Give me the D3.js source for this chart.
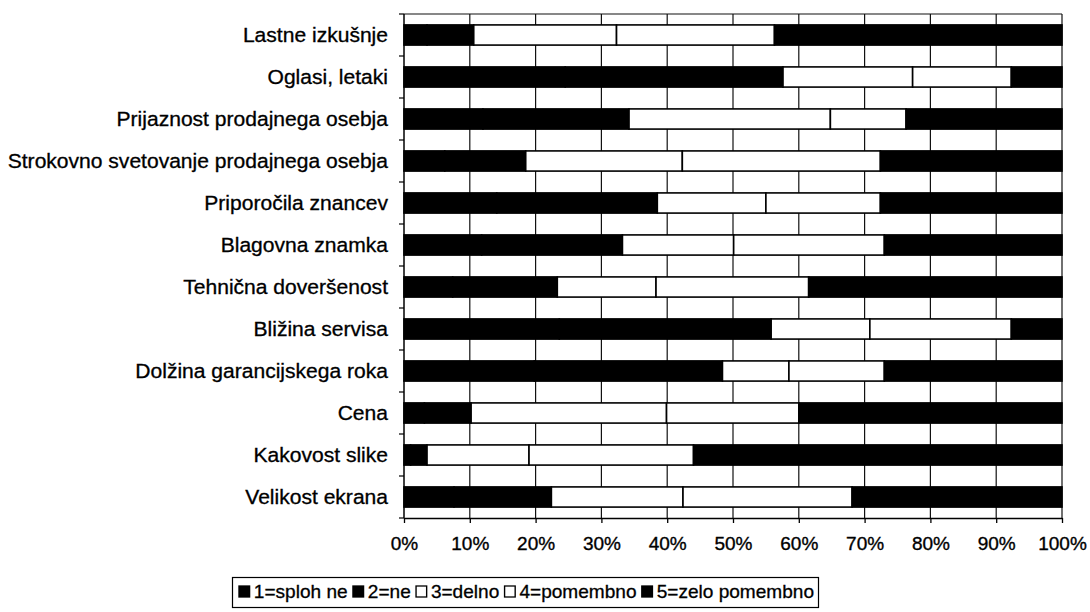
<!DOCTYPE html>
<html>
<head>
<meta charset="utf-8">
<script src="https://cdn.jsdelivr.net/npm/d3@7"></script>
<style>
  html, body { margin: 0; padding: 0; background: #fff; }
  svg { display: block; }
  text { font-family: "Liberation Sans", Arial, sans-serif; fill: #000; }
</style>
</head>
<body>
<svg id="chart" width="1090" height="612"></svg>
<script>
// Factors listed top to bottom
const categories = [
  "Lastne izkušnje",
  "Oglasi, letaki",
  "Prijaznost prodajnega osebja",
  "Strokovno svetovanje prodajnega osebja",
  "Priporočila znancev",
  "Blagovna znamka",
  "Tehnična doveršenost",
  "Bližina servisa",
  "Dolžina garancijskega roka",
  "Cena",
  "Kakovost slike",
  "Velikost ekrana"
];

// Share of answers per rating (percent), same order as categories
const splohNe   = [3.5, 24.5, 12.0, 6.2, 14.1, 11.8, 7.4, 23.6, 19.8, 3.1, 1.0, 7.6];
const ne        = [7.1, 33.1, 22.2, 12.3, 24.4, 21.4, 15.9, 32.2, 28.6, 7.1, 2.5, 14.8];
const delno     = [21.7, 19.7, 30.6, 23.8, 16.5, 16.9, 15.0, 15.0, 10.1, 29.7, 15.5, 20.0];
const pomembno  = [24.0, 15.0, 11.5, 30.1, 17.4, 22.9, 23.2, 21.5, 14.5, 20.1, 25.0, 25.7];
const zeloPom   = [43.7, 7.7, 23.7, 27.6, 27.6, 27.0, 38.5, 7.7, 27.0, 40.0, 56.0, 31.9];

const seriesNames = ["1=sploh ne", "2=ne", "3=delno", "4=pomembno", "5=zelo pomembno"];
const seriesFill  = ["#000", "#000", "#fff", "#fff", "#000"];

const tickValues = [0, 0.1, 0.2, 0.3, 0.4, 0.5, 0.6, 0.7, 0.8, 0.9, 1.0];

const rows = categories.map((c, i) => ({
  cat: c,
  "1=sploh ne": splohNe[i],
  "2=ne": ne[i],
  "3=delno": delno[i],
  "4=pomembno": pomembno[i],
  "5=zelo pomembno": zeloPom[i]
}));

const stacked = d3.stack()
  .keys(seriesNames)
  .offset(d3.stackOffsetExpand)(rows);

const svg = d3.select("#chart");
const plot = { left: 404, right: 1062, top: 14, bottom: 518 };

const x = d3.scaleLinear().domain([0, 1]).range([plot.left, plot.right]);
const y = d3.scaleBand().domain(categories).range([plot.top, plot.bottom]).paddingInner(0.52).paddingOuter(0.26);

// Vertical gridlines
svg.append("g")
  .selectAll("line")
  .data(tickValues.slice(1))
  .join("line")
  .attr("x1", d => x(d)).attr("x2", d => x(d))
  .attr("y1", plot.top).attr("y2", plot.bottom)
  .attr("stroke", "#111").attr("stroke-width", 1.2);

// Plot frame top edge
svg.append("line")
  .attr("x1", plot.left).attr("x2", plot.right)
  .attr("y1", plot.top).attr("y2", plot.top)
  .attr("stroke", "#111").attr("stroke-width", 1.2);

// Bars
svg.append("g")
  .selectAll("g")
  .data(stacked)
  .join("g")
  .attr("fill", (d, i) => seriesFill[i])
  .selectAll("rect")
  .data(d => d)
  .join("rect")
  .attr("x", d => x(d[0]))
  .attr("y", d => y(d.data.cat))
  .attr("width", d => x(d[1]) - x(d[0]))
  .attr("height", y.bandwidth())
  .attr("stroke", "#000")
  .attr("stroke-width", 1.6);

// X axis
const xAxis = svg.append("g")
  .attr("transform", `translate(0,${plot.bottom})`)
  .call(d3.axisBottom(x).tickValues(tickValues).tickFormat(d3.format(".0%")).tickSize(5).tickSizeOuter(0));
xAxis.select(".domain").attr("stroke", "#000").attr("stroke-width", 1.5);
xAxis.selectAll(".tick line").attr("stroke", "#000").attr("stroke-width", 1.3);
xAxis.selectAll(".tick text")
  .attr("y", 19)
  .attr("font-size", 19)
  .attr("stroke", "#000").attr("stroke-width", 0.35)
  .style("font-family", "'Liberation Sans', Arial, sans-serif");

// Y axis with ticks at band boundaries
const bandEdges = categories.map(c => y(c) - y.step() * y.paddingInner() / 2);
bandEdges.push(plot.bottom);
const yAxisG = svg.append("g");
yAxisG.append("line")
  .attr("x1", plot.left).attr("x2", plot.left)
  .attr("y1", plot.top).attr("y2", plot.bottom)
  .attr("stroke", "#000").attr("stroke-width", 1.5);
yAxisG.selectAll("line.tk")
  .data(bandEdges)
  .join("line")
  .attr("class", "tk")
  .attr("x1", plot.left - 5).attr("x2", plot.left)
  .attr("y1", d => d).attr("y2", d => d)
  .attr("stroke", "#000").attr("stroke-width", 1.2);

// Category labels (slightly widened face)
svg.append("g")
  .selectAll("text")
  .data(categories)
  .join("text")
  .attr("transform", d => `translate(388,${y(d) + y.bandwidth() / 2}) scale(1.08,1)`)
  .attr("dy", "0.35em")
  .attr("text-anchor", "end")
  .attr("font-size", 19.5)
  .attr("stroke", "#000").attr("stroke-width", 0.3)
  .text(d => d);

// Legend
const legend = svg.append("g");
legend.append("rect")
  .attr("x", 232.5).attr("y", 577.5)
  .attr("width", 586).attr("height", 30)
  .attr("fill", "#fff").attr("stroke", "#000").attr("stroke-width", 1.2);

const items = legend.append("g").attr("transform", "translate(239,0) scale(1.06,1)");
let lx = 0;
const ly = 598;
seriesNames.forEach((name, i) => {
  items.append("rect")
    .attr("x", lx).attr("y", ly - 12)
    .attr("width", 10).attr("height", 11)
    .attr("fill", seriesFill[i])
    .attr("stroke", "#000").attr("stroke-width", 1.3);
  const t = items.append("text")
    .attr("x", lx + 14).attr("y", ly)
    .attr("font-size", 18)
    .attr("stroke", "#000").attr("stroke-width", 0.3)
    .text(name);
  lx += 14 + t.node().getComputedTextLength() + 5;
});
</script>
</body>
</html>
